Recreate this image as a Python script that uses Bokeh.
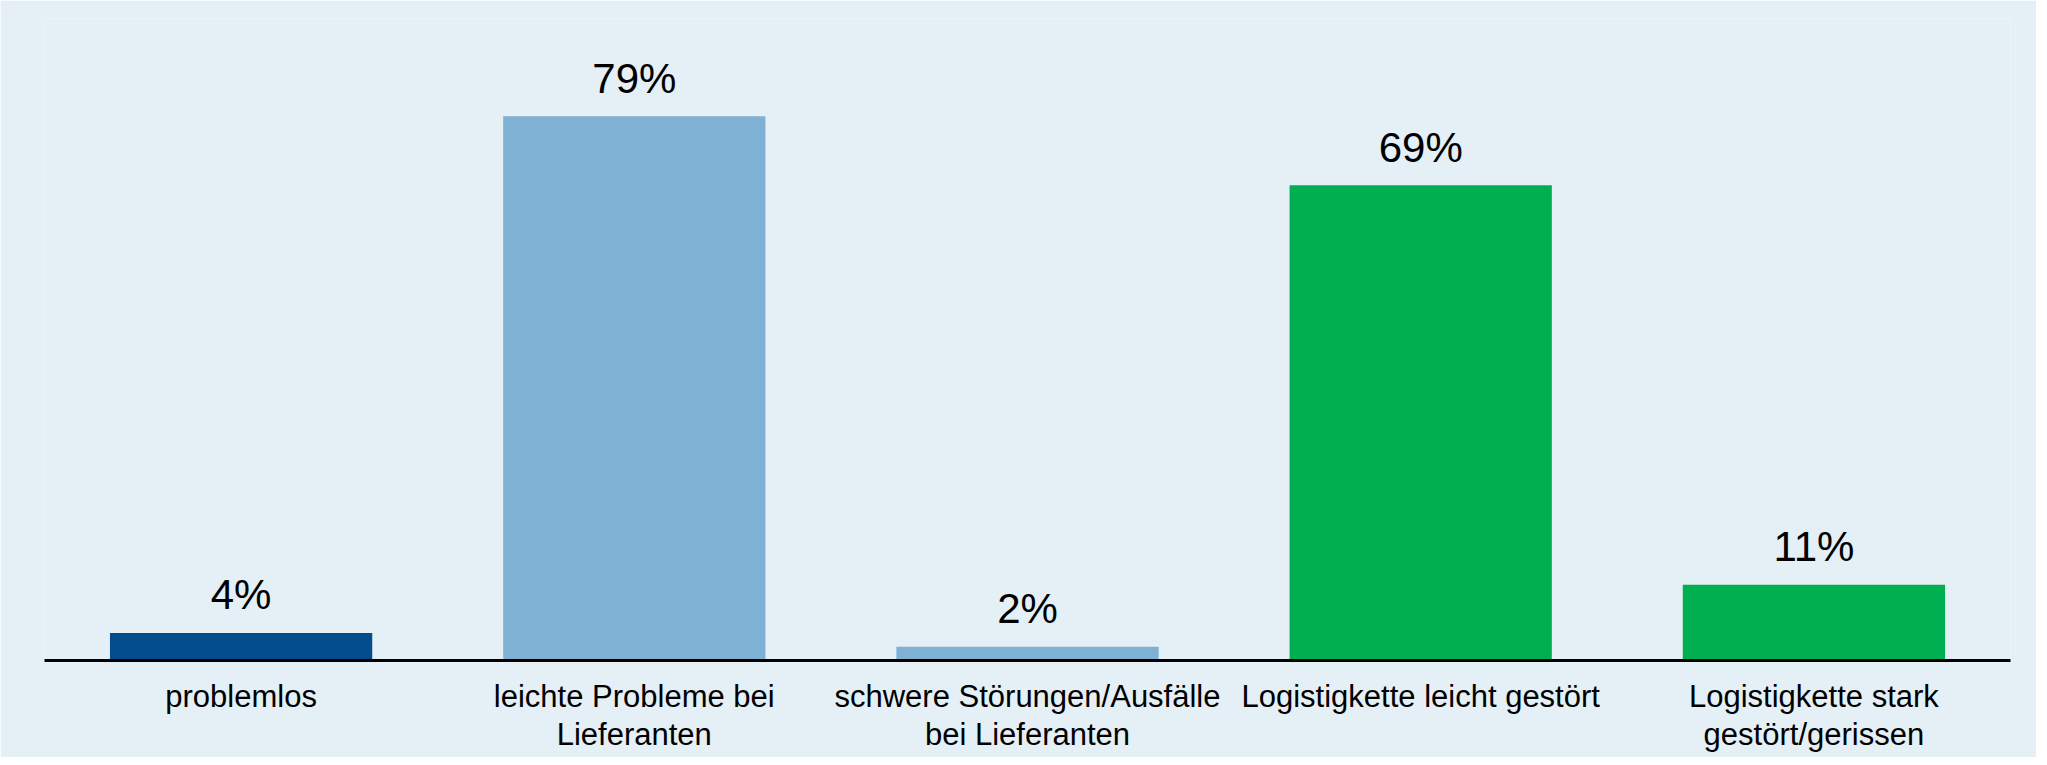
from bokeh.plotting import figure
from bokeh.models import ColumnDataSource, Range1d, FixedTicker
from bokeh.core.properties import value
from bokeh.embed import file_html
from bokeh.resources import INLINE

categories = [
    "problemlos",
    "leichte Probleme bei\nLieferanten",
    "schwere Störungen/Ausfälle\nbei Lieferanten",
    "Logistigkette leicht gestört",
    "Logistigkette stark\ngestört/gerissen",
]
values = [4, 79, 2, 69, 11]
value_labels = ["4%", "79%", "2%", "69%", "11%"]
bar_colors = ["#034D8E", "#7FB1D5", "#7FB1D5", "#00B050", "#00B050"]

xs = list(range(len(categories)))
src = ColumnDataSource(dict(x=xs, top=values, label=value_labels, color=bar_colors))

BG = "#E4EFF6"
FONT = "Liberation Sans"

p = figure(width=2036, height=757,
           x_range=Range1d(-0.5, 4.5), y_range=Range1d(0, 93.2),
           output_backend="svg", toolbar_location=None,
           y_axis_location=None,
           min_border_left=44, min_border_right=26,
           min_border_top=18, min_border_bottom=97)

p.background_fill_color = BG
p.border_fill_color = BG
p.outline_line_color = None
p.xgrid.visible = False
p.ygrid.visible = False

p.vbar(x="x", top="top", bottom=0, width=0.667, fill_color="color",
       line_color=None, source=src)

p.text(x="x", y="top", text="label", source=src,
       text_align="center", text_baseline="alphabetic", y_offset=-38,
       text_font=value(FONT), text_font_size="42px", text_color="black")

ax = p.xaxis[0]
ax.ticker = FixedTicker(ticks=xs)
ax.major_label_overrides = {i: c for i, c in zip(xs, categories)}
ax.axis_line_color = "black"
ax.axis_line_width = 3
ax.major_tick_line_color = None
ax.minor_tick_line_color = None
ax.major_tick_out = 0
ax.major_tick_in = 0
ax.major_label_standoff = 18
ax.major_label_text_font = FONT
ax.major_label_text_font_size = "31px"
ax.major_label_text_color = "black"
ax.major_label_text_line_height = 1.1

open("out.html", "w").write(file_html(p, INLINE))
